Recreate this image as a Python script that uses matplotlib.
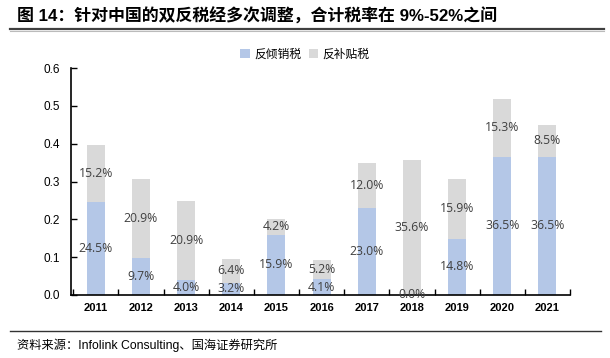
import matplotlib
matplotlib.use("Agg")
import matplotlib.pyplot as plt
from matplotlib.lines import Line2D
import numpy as np

plt.rcParams['font.family'] = ['Liberation Sans', 'Noto Sans CJK SC', 'DejaVu Sans']

years = ['2011', '2012', '2013', '2014', '2015', '2016', '2017', '2018', '2019', '2020', '2021']
antidumping = [0.245, 0.097, 0.040, 0.032, 0.159, 0.041, 0.230, 0.000, 0.148, 0.365, 0.365]
countervailing = [0.152, 0.209, 0.209, 0.064, 0.042, 0.052, 0.120, 0.356, 0.159, 0.153, 0.085]
series_names = ['反倾销税', '反补贴税']
yticks = [0.0, 0.1, 0.2, 0.3, 0.4, 0.5, 0.6]

blue = '#B4C7E7'
grey = '#D9D9D9'

fig = plt.figure(figsize=(6.10, 3.58), dpi=100)
ax = fig.add_axes([0.1164, 0.176, 0.818, 0.634])

x = np.arange(len(years))
w = 0.4
b1 = ax.bar(x, antidumping, w, color=blue, label=series_names[0])
b2 = ax.bar(x, countervailing, w, bottom=antidumping, color=grey, label=series_names[1])

lab_font = dict(fontsize=8.8, color='#404040', family=['Open Sans', 'DejaVu Sans'], ha='center', va='center')
for i in range(len(years)):
    a = antidumping[i]
    c = countervailing[i]
    ax.text(x[i], a / 2, f'{a*100:.1f}%', **lab_font)
    ax.text(x[i], a + c / 2, f'{c*100:.1f}%', **lab_font)

ax.set_xlim(-0.55, 10.5)
ax.set_ylim(0, 0.6)
ax.set_yticks(yticks)
ax.set_yticklabels([f'{v:.1f}' for v in yticks], fontsize=8.5)
ax.set_xticks(x)
ax.set_xticklabels(years, fontsize=8, fontweight='bold')
ax.set_xticks(np.arange(-0.5, 10.6, 1), minor=True)
ax.tick_params(axis='x', which='major', length=0, pad=6)
ax.tick_params(axis='x', which='minor', length=4, direction='in', width=1)
ax.tick_params(axis='y', direction='in', length=4, width=1, pad=8)
for s in ['top', 'right']:
    ax.spines[s].set_visible(False)
for s in ['left', 'bottom']:
    ax.spines[s].set_linewidth(1.2)
    ax.spines[s].set_color('black')

fig.legend(handles=[b1, b2], labels=series_names, loc='center', bbox_to_anchor=(0.5, 1 - 54 / 358),
           ncol=2, frameon=False, handlelength=0.8, handleheight=0.8,
           handletextpad=0.4, columnspacing=0.6, prop={'family': ['Noto Sans CJK SC'], 'size': 8.5})

fig.text(0.028, 1 - 16 / 358, '图 14：针对中国的双反税经多次调整，合计税率在 9%-52%之间',
         fontsize=12.2, fontweight='bold', ha='left', va='center',
         family=['Liberation Sans', 'Noto Sans CJK SC', 'DejaVu Sans'])
fig.add_artist(Line2D([0.016, 0.99], [1 - 29 / 358, 1 - 29 / 358], color='#404040', lw=1.6,
                      transform=fig.transFigure))
fig.add_artist(Line2D([0.016, 0.99], [1 - 30.5 / 358, 1 - 30.5 / 358], color='#BBBBBB', lw=0.8,
                      transform=fig.transFigure))
fig.add_artist(Line2D([0.016, 0.985], [1 - 331 / 358, 1 - 331 / 358], color='#333333', lw=1.0,
                      transform=fig.transFigure))
fig.text(0.028, 1 - 345 / 358, '资料来源：Infolink Consulting、国海证券研究所', fontsize=8.8,
         ha='left', va='center', family=['Liberation Sans', 'Noto Sans CJK SC', 'DejaVu Sans'])

fig.savefig('out.png', dpi=100)
